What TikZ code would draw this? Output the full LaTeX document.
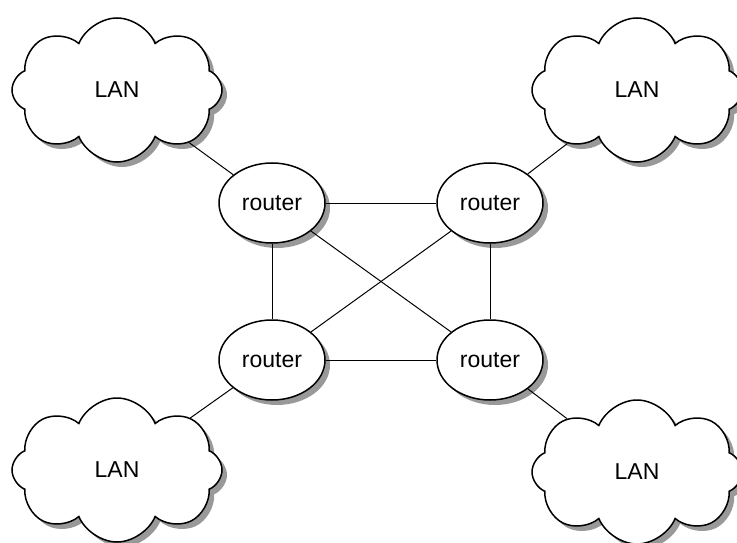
\documentclass[tikz,border=0pt]{standalone}
\usepackage{fontspec}
\setsansfont{Liberation Sans}
\usetikzlibrary{shapes.geometric,shapes.symbols,shadows}
\begin{document}
\begin{tikzpicture}[x=1pt,y=-1pt,
  lan/.style={cloud, cloud puffs=8, cloud puff arc=135, cloud ignores aspect,
    draw, line width=1.5pt, fill=white, minimum width=210pt, minimum height=144pt,
    font=\sffamily\fontsize{23}{27}\selectfont,
    drop shadow={fill=black!40, opacity=1, shadow xshift=5pt, shadow yshift=-5pt}},
  router/.style={ellipse, draw, line width=1.5pt, fill=white, minimum width=106pt, minimum height=80pt,
    font=\sffamily\fontsize{23}{27}\selectfont,
    drop shadow={fill=black!40, opacity=1, shadow xshift=5pt, shadow yshift=-5pt}},
  enlace/.style={line width=1pt}]
\useasboundingbox (0,0) rectangle (737,543);
% Routers
\node[router] (r1) at (272,203) {router};
\node[router] (r2) at (490,203) {router};
\node[router] (r3) at (272,360) {router};
\node[router] (r4) at (490,360) {router};
% Redes locales
\node[lan] (l1) at (117,90) {LAN};
\node[lan] (l2) at (637,90) {LAN};
\node[lan] (l3) at (117,470) {LAN};
\node[lan] (l4) at (637,472) {LAN};
% Enlaces entre routers
\draw[enlace] (r1) -- (r2);
\draw[enlace] (r1) -- (r3);
\draw[enlace] (r1) -- (r4);
\draw[enlace] (r2) -- (r3);
\draw[enlace] (r2) -- (r4);
\draw[enlace] (r3) -- (r4);
% Enlaces LAN - router
\draw[enlace] (l1) -- (r1);
\draw[enlace] (l2) -- (r2);
\draw[enlace] (l3) -- (r3);
\draw[enlace] (l4) -- (r4);
\end{tikzpicture}
\end{document}
